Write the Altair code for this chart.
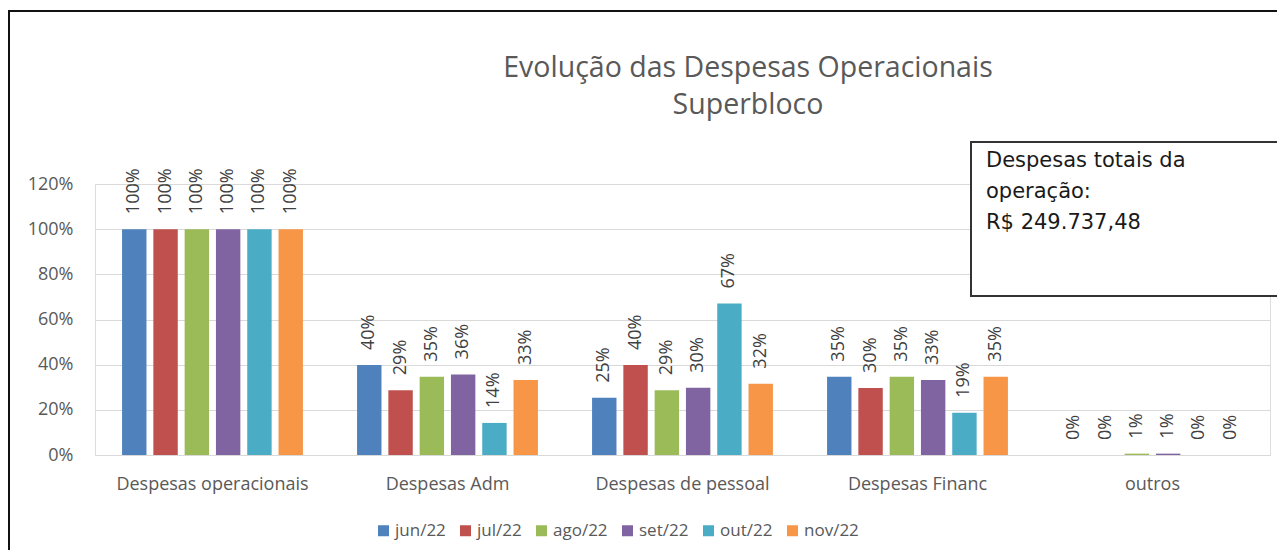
import altair as alt
import pandas as pd

categories = ["Despesas operacionais", "Despesas Adm", "Despesas de pessoal", "Despesas Financ", "outros"]
months = ["jun/22", "jul/22", "ago/22", "set/22", "out/22", "nov/22"]
colors = ["#4F81BD", "#C0504D", "#9BBB59", "#8064A2", "#4BACC6", "#F79646"]

jun = [1.00, 0.398, 0.253, 0.347, 0.000]
jul = [1.00, 0.287, 0.398, 0.297, 0.000]
ago = [1.00, 0.347, 0.287, 0.347, 0.006]
set_ = [1.00, 0.357, 0.298, 0.332, 0.006]
out = [1.00, 0.142, 0.671, 0.187, 0.000]
nov = [1.00, 0.332, 0.316, 0.347, 0.000]
series = [jun, jul, ago, set_, out, nov]

y_ticks = [0, 0.2, 0.4, 0.6, 0.8, 1.0, 1.2]
title_lines = ["Evolução das Despesas Operacionais", "Superbloco"]
box_lines = ["Despesas totais da", "operação:", "R$ 249.737,48"]

rows = []
for m, vals in zip(months, series):
    for c, v in zip(categories, vals):
        rows.append({"category": c, "month": m, "value": v})
df = pd.DataFrame(rows)

FONT = "Open Sans"
GREY = "#595959"

base = alt.Chart(df).encode(
    x=alt.X("category:N", sort=categories, title=None,
            scale=alt.Scale(paddingInner=0, paddingOuter=0),
            axis=alt.Axis(labelAngle=0, domain=False, ticks=False, labelPadding=20, labelLimit=0,
                          labelFontSize=18, labelColor=GREY, labelFont=FONT)),
    xOffset=alt.XOffset("month:N", sort=months,
                        scale=alt.Scale(paddingInner=0.22, paddingOuter=0.865)),
    y=alt.Y("value:Q", title=None,
            scale=alt.Scale(domain=[0, 1.2], nice=False),
            axis=alt.Axis(values=y_ticks, format=".0%", domain=False, ticks=False, tickSize=0,
                          labelPadding=22, labelFontSize=18, labelColor=GREY, labelFont=FONT,
                          gridColor="#D9D9D9", gridWidth=1)),
)

bars = base.mark_bar().encode(
    color=alt.Color("month:N", sort=months, title=None,
                    scale=alt.Scale(domain=months, range=colors),
                    legend=alt.Legend(orient="none", legendX=280, legendY=338, direction="horizontal",
                                      symbolType="square", symbolSize=121, symbolStrokeWidth=0,
                                      labelFontSize=17, labelColor=GREY, labelFont=FONT,
                                      labelOffset=3, columnPadding=11, padding=0))
)

labels = base.mark_text(angle=270, align="left", baseline="middle", dx=15,
                        fontSize=18, font=FONT).encode(
    text=alt.Text("value:Q", format=".0%"),
    color=alt.value("#404040"),
)

one = pd.DataFrame({"k": [0]})

def txt(line, x, y, size, color, font, align):
    return alt.Chart(pd.DataFrame({"t": [line]})).mark_text(
        fontSize=size, font=font, color=color, align=align, baseline="alphabetic"
    ).encode(text="t:N", x=alt.value(x), y=alt.value(y))

title1 = txt(title_lines[0], 653, -107, 28.5, GREY, FONT, "center")
title2 = txt(title_lines[1], 653, -70, 28.5, GREY, FONT, "center")

box_fill = alt.Chart(one).mark_rect(fill="white").encode(
    x=alt.value(876), x2=alt.value(1182), y=alt.value(-42), y2=alt.value(112))
box_top = alt.Chart(one).mark_rule(color="#333333", strokeWidth=2).encode(
    x=alt.value(876), x2=alt.value(1182), y=alt.value(-42))
box_bottom = alt.Chart(one).mark_rule(color="#333333", strokeWidth=2).encode(
    x=alt.value(876), x2=alt.value(1182), y=alt.value(112))
box_left = alt.Chart(one).mark_rule(color="#333333", strokeWidth=2).encode(
    x=alt.value(876), y=alt.value(-43), y2=alt.value(113))

bt1 = txt(box_lines[0], 891, -17, 21, "#1a1a1a", "DejaVu Sans", "left")
bt2 = txt(box_lines[1], 891, 14, 21, "#1a1a1a", "DejaVu Sans", "left")
bt3 = txt(box_lines[2], 891, 45, 21, "#1a1a1a", "DejaVu Sans", "left")

border_left = alt.Chart(one).mark_rule(color="#111111", strokeWidth=2).encode(
    x=alt.value(-86), y=alt.value(-174), y2=alt.value(366))
border_top = alt.Chart(one).mark_rule(color="#111111", strokeWidth=2).encode(
    x=alt.value(-87), x2=alt.value(1182), y=alt.value(-173))

chart = alt.layer(
    bars, labels, title1, title2,
    box_fill, box_top, box_bottom, box_left, bt1, bt2, bt3,
    border_left, border_top,
).properties(
    width=1175, height=271,
    autosize=alt.AutoSizeParams(type="none"),
    padding={"left": 87, "top": 176, "right": 7, "bottom": 95},
).configure_view(stroke=None).configure(background="white")

chart.save("out.html", embed_options={"renderer": "svg", "actions": False})
